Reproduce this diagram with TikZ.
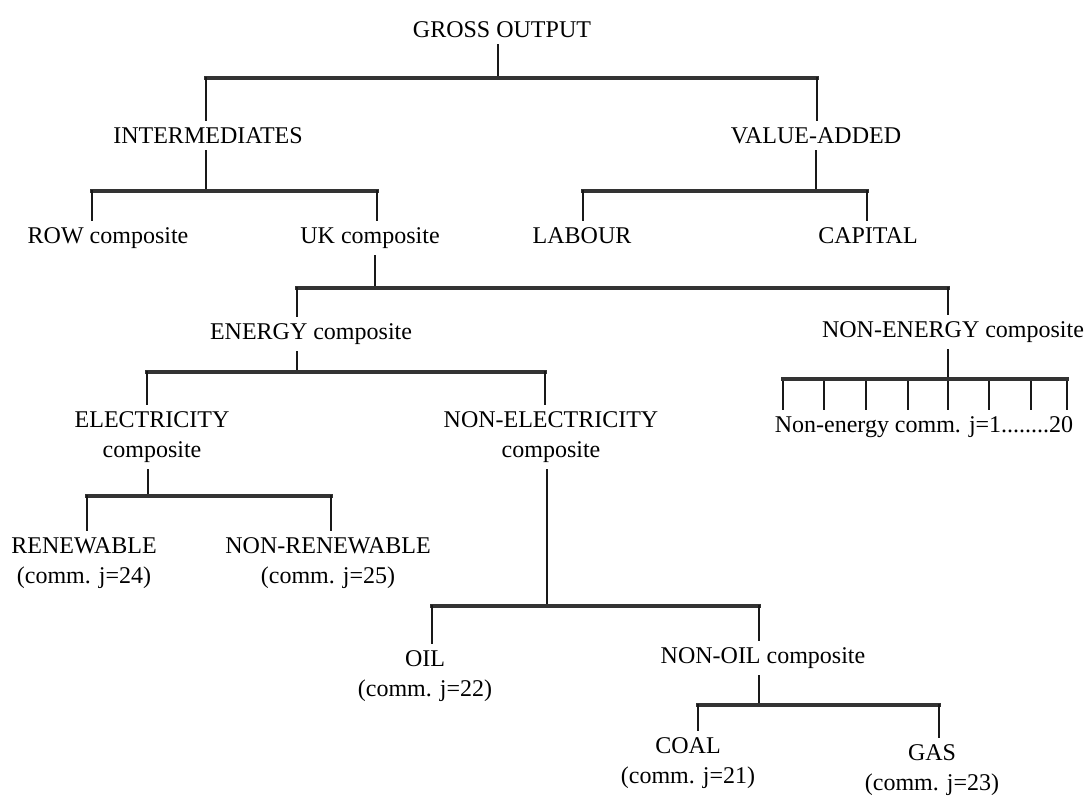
\documentclass[tikz,border=0pt]{standalone}
\usepackage{fontspec}
\setmainfont{Liberation Serif}

\begin{document}
\begin{tikzpicture}[x=0.5pt, y=-0.5pt,
		lbl/.style={font=\fontsize{12}{15}\selectfont, inner xsep=0pt, inner ysep=3.5pt, align=center},
		link/.style={line width=1pt, black!90, line cap=rect},
		bus/.style={line width=1.6pt, black!80, line cap=rect}]
			\useasboundingbox (0,0) rectangle (1091,798);
			% Labels of the nesting levels
			\node[lbl, anchor=base] (gross) at (502,37) {GROSS OUTPUT};
			\node[lbl, anchor=base] (inter) at (208,143) {INTERMEDIATES};
			\node[lbl, anchor=base] (vadd) at (816,143) {VALUE-ADDED};
			\node[lbl, anchor=base] (row) at (108,243) {ROW composite};
			\node[lbl, anchor=base] (uk) at (370,243) {UK composite};
			\node[lbl, anchor=base] (labour) at (582,243) {LABOUR};
			\node[lbl, anchor=base] (capital) at (868,243) {CAPITAL};
			\node[lbl, anchor=base] (energy) at (311,339) {ENERGY composite};
			\node[lbl, anchor=base] (nonenergy) at (953,337) {NON-ENERGY composite};
			\node[lbl, anchor=base] (necomm) at (924,432) {Non-energy comm. j=1........20};
			\node[lbl] (elec) at (152,437) {ELECTRICITY\\composite};
			\node[lbl] (nonelec) at (551,437) {NON-ELECTRICITY\\composite};
			\node[lbl] (renew) at (84,563) {RENEWABLE\\(comm. j=24)};
			\node[lbl] (nonrenew) at (328,563) {NON-RENEWABLE\\(comm. j=25)};
			\node[lbl] (oil) at (425,676) {OIL\\(comm. j=22)};
			\node[lbl, anchor=base] (nonoil) at (763,663) {NON-OIL composite};
			\node[lbl] (coal) at (688,763) {COAL\\(comm. j=21)};
			\node[lbl] (gas) at (932,770) {GAS\\(comm. j=23)};
			% Gross output
			\coordinate (jgross) at (498,78);
			\coordinate (tinter) at (206,78);
			\coordinate (tvadd) at (817,78);
			\draw[link] (gross.south -| jgross) -- (jgross);
			\draw[bus] (tinter) -- (tvadd);
			\draw[link] (tinter) -- (inter.north -| tinter);
			\draw[link] (tvadd) -- (vadd.north -| tvadd);
			% Intermediates
			\coordinate (jinter) at (206,191);
			\coordinate (trow) at (92,191);
			\coordinate (tuk) at (377,191);
			\draw[link] (inter.south -| jinter) -- (jinter);
			\draw[bus] (trow) -- (tuk);
			\draw[link] (trow) -- (row.north -| trow);
			\draw[link] (tuk) -- (uk.north -| tuk);
			% Value-added
			\coordinate (jvadd) at (816,191);
			\coordinate (tlabour) at (583,191);
			\coordinate (tcapital) at (867,191);
			\draw[link] (vadd.south -| jvadd) -- (jvadd);
			\draw[bus] (tlabour) -- (tcapital);
			\draw[link] (tlabour) -- (labour.north -| tlabour);
			\draw[link] (tcapital) -- (capital.north -| tcapital);
			% UK composite
			\coordinate (juk) at (375,288);
			\coordinate (tenergy) at (297,288);
			\coordinate (tnonenergy) at (948,288);
			\draw[link] (uk.south -| juk) -- (juk);
			\draw[bus] (tenergy) -- (tnonenergy);
			\draw[link] (tenergy) -- (energy.north -| tenergy);
			\draw[link] (tnonenergy) -- (nonenergy.north -| tnonenergy);
			% Energy composite
			\coordinate (jenergy) at (297,372);
			\coordinate (telec) at (147,372);
			\coordinate (tnonelec) at (545,372);
			\draw[link] (energy.south -| jenergy) -- (jenergy);
			\draw[bus] (telec) -- (tnonelec);
			\draw[link] (telec) -- (elec.north -| telec);
			\draw[link] (tnonelec) -- (nonelec.north -| tnonelec);
			% Non-energy commodities
			\coordinate (jnonenergy) at (948,379);
			\draw[link] (nonenergy.south -| jnonenergy) -- (jnonenergy);
			\foreach \x [count=\i] in {783,824,866,908,948,989,1031,1067} {
				\coordinate (tne\i) at (\x,379);
				\draw[link] (tne\i) -- (necomm.north -| tne\i);
			}
			\draw[bus] (tne1) -- (tne8);
			% Electricity composite
			\coordinate (jelec) at (148,496);
			\coordinate (trenew) at (87,496);
			\coordinate (tnonrenew) at (331,496);
			\draw[link] (elec.south -| jelec) -- (jelec);
			\draw[bus] (trenew) -- (tnonrenew);
			\draw[link] (trenew) -- (renew.north -| trenew);
			\draw[link] (tnonrenew) -- (nonrenew.north -| tnonrenew);
			% Non-electricity composite
			\coordinate (jnonelec) at (547,606);
			\coordinate (toil) at (432,606);
			\coordinate (tnonoil) at (759,606);
			\draw[link] (nonelec.south -| jnonelec) -- (jnonelec);
			\draw[bus] (toil) -- (tnonoil);
			\draw[link] (toil) -- (oil.north -| toil);
			\draw[link] (tnonoil) -- (nonoil.north -| tnonoil);
			% Non-oil composite
			\coordinate (jnonoil) at (759,705);
			\coordinate (tcoal) at (698,705);
			\coordinate (tgas) at (939,705);
			\draw[link] (nonoil.south -| jnonoil) -- (jnonoil);
			\draw[bus] (tcoal) -- (tgas);
			\draw[link] (tcoal) -- (coal.north -| tcoal);
			\draw[link] (tgas) -- (gas.north -| tgas);
		\end{tikzpicture}
\end{document}
